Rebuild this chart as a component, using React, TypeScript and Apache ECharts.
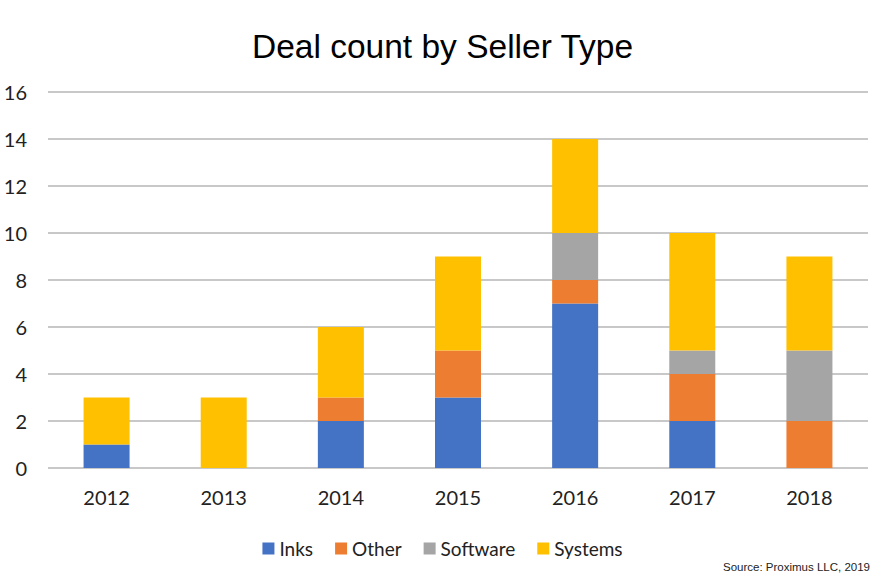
import React, { useEffect, useRef } from "react";
import * as echarts from "echarts";

const years = ["2012", "2013", "2014", "2015", "2016", "2017", "2018"];
const inks = [1, 0, 2, 3, 7, 2, 0];
const other = [0, 0, 1, 2, 1, 2, 2];
const software = [0, 0, 0, 0, 2, 1, 3];
const systems = [2, 3, 3, 4, 4, 5, 4];

const seriesNames = ["Inks", "Other", "Software", "Systems"];
const seriesColors = ["#4472C4", "#ED7D31", "#A5A5A5", "#FFC000"];

export default function App() {
  const ref = useRef<HTMLDivElement>(null);
  useEffect(() => {
    if (!ref.current) return;
    const chart = echarts.init(ref.current, null, { renderer: "svg" });
    const data = [inks, other, software, systems];
    chart.setOption({
      animation: false,
      backgroundColor: "#ffffff",
      title: {
        text: "Deal count by Seller Type",
        left: 247,
        top: 24,
        textStyle: {
          fontFamily: "Liberation Sans, Arial, sans-serif",
          fontSize: 33.5,
          fontWeight: "normal",
          color: "#000000",
        },
      },
      grid: { left: 48, right: 17, top: 92, bottom: 115, containLabel: false },
      legend: {
        bottom: 20,
        left: "center",
        itemWidth: 12,
        itemHeight: 12,
        itemGap: 22,
        icon: "rect",
        textStyle: { fontFamily: "Lato, sans-serif", fontSize: 19, color: "#222" },
        data: seriesNames,
      },
      xAxis: {
        type: "category",
        data: years,
        axisLine: { show: false },
        axisTick: { show: false },
        axisLabel: { fontFamily: "Lato, sans-serif", fontSize: 20, color: "#222", margin: 19 },
      },
      yAxis: {
        type: "value",
        min: 0,
        max: 16,
        interval: 2,
        axisLine: { show: false },
        axisTick: { show: false },
        splitLine: { lineStyle: { color: "#C8C8C8", width: 2 } },
        axisLabel: { fontFamily: "Lato, sans-serif", fontSize: 20, color: "#222", margin: 21 },
      },
      graphic: [
        {
          type: "text",
          right: 15,
          bottom: 10,
          style: {
            text: "Source: Proximus LLC, 2019",
            fontFamily: "Liberation Sans, Arial, sans-serif",
            fontSize: 11.5,
            fill: "#222",
          },
        },
      ],
      series: seriesNames.map((name, i) => ({
        name,
        type: "bar",
        stack: "total",
        barWidth: 46,
        data: data[i],
        itemStyle: { color: seriesColors[i] },
      })),
    });
    return () => chart.dispose();
  }, []);
  return (
    <div
      ref={ref}
      style={{ position: "absolute", left: 0, top: 0, width: 885, height: 583 }}
    />
  );
}
